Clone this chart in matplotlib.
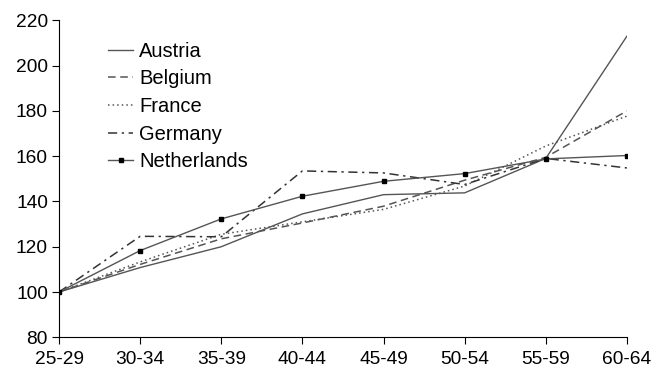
import matplotlib
matplotlib.use("Agg")
import matplotlib.pyplot as plt

plt.rcParams["font.family"] = ["Liberation Sans", "DejaVu Sans"]

ages = ["25-29", "30-34", "35-39", "40-44", "45-49", "50-54", "55-59", "60-64"]
austria = [100, 110.8, 120, 134.5, 143, 143.8, 159, 213]
belgium = [100, 112.2, 123.5, 130.5, 137.9, 149.4, 159.5, 180]
france = [100, 113.3, 125.5, 131, 136.5, 146.8, 164.5, 177.7]
germany = [100, 124.6, 124.4, 153.5, 152.6, 147.5, 159, 154.8]
netherlands = [100, 118.3, 132.3, 142.3, 148.9, 152.3, 158.8, 160.3]

fig = plt.figure(figsize=(6.52, 3.7), dpi=100)
ax = fig.add_axes([0.0905, 0.0884, 0.871, 0.8566])

x = range(len(ages))
grey = "#555555"
ax.plot(x, austria, color=grey, lw=1.0, ls="-", label="Austria")
ax.plot(x, belgium, color=grey, lw=1.1, ls=(0, (5, 3)), label="Belgium")
ax.plot(x, france, color=grey, lw=1.1, ls=(0, (1, 2)), label="France")
ax.plot(x, germany, color="#333333", lw=1.1, ls=(0, (6, 3, 1.5, 3)), label="Germany")
ax.plot(x, netherlands, color=grey, lw=1.0, ls="-", marker="s", markersize=2.6,
        markerfacecolor="black", markeredgecolor="black", label="Netherlands")

ax.set_xlim(0, 7)
ax.set_ylim(80, 220)
ax.set_xticks(list(x))
ax.set_xticklabels(ages)
ax.set_yticks(range(80, 221, 20))
ax.spines["top"].set_visible(False)
ax.spines["right"].set_visible(False)
ax.tick_params(labelsize=13.8, length=5, width=0.8, pad=3)
ax.tick_params(axis="x", pad=5)

leg = ax.legend(loc="upper left", bbox_to_anchor=(0.055, 0.99), frameon=False,
                fontsize=14.5, handlelength=1.24, handletextpad=0.3, labelspacing=0.43)

fig.savefig("out.png", dpi=100)
